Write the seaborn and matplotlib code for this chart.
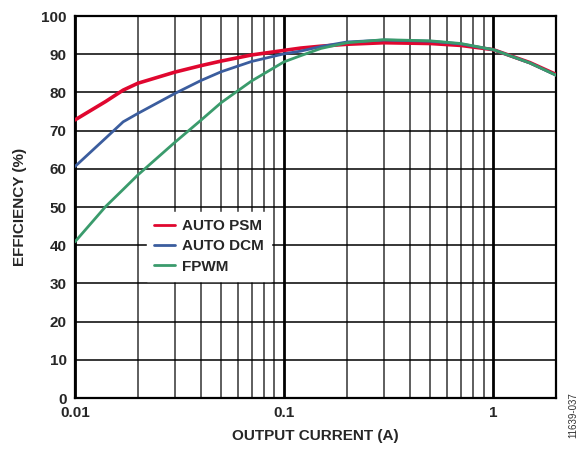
import matplotlib
matplotlib.use("Agg")
import matplotlib.pyplot as plt
import matplotlib.ticker as mticker
import seaborn as sns
import pandas as pd

current = [0.01, 0.014, 0.017, 0.02, 0.03, 0.04, 0.05, 0.07, 0.1, 0.12, 0.15, 0.2, 0.3, 0.5, 0.7, 1.0, 1.5, 2.0]
auto_psm = [72.8, 77.6, 80.6, 82.4, 85.3, 87.0, 88.2, 89.8, 91.0, 91.6, 92.1, 92.6, 93.0, 92.8, 92.3, 91.2, 87.8, 84.7]
auto_dcm = [60.6, 68.0, 72.3, 74.5, 79.7, 83.1, 85.4, 88.1, 90.1, 90.8, 92.0, 93.2, 93.7, 93.4, 92.7, 91.2, 87.7, 84.5]
fpwm = [40.9, 50.1, 54.6, 58.4, 66.9, 72.7, 77.3, 83.0, 88.0, 89.6, 91.5, 93.0, 93.8, 93.5, 92.8, 91.2, 87.7, 84.5]
series_names = ["AUTO PSM", "AUTO DCM", "FPWM"]
x_ticks = [0.01, 0.1, 1]
x_labels = ["0.01", "0.1", "1"]
y_ticks = list(range(0, 101, 10))

df = pd.concat([
    pd.DataFrame({"current": current, "eff": vals, "mode": name})
    for name, vals in zip(series_names, [auto_psm, auto_dcm, fpwm])
])

sns.set_style("white")
plt.rcParams["font.family"] = ["Liberation Sans", "DejaVu Sans"]

fig = plt.figure(figsize=(5.85, 4.53), dpi=100)
ax = fig.add_axes([75 / 585, 1 - 398 / 453, (556 - 75) / 585, (398 - 16) / 453])

palette = {"AUTO PSM": "#E0072F", "AUTO DCM": "#3B5D9E", "FPWM": "#3A9B6C"}
sizes = {"AUTO PSM": 2.6, "AUTO DCM": 2.0, "FPWM": 2.0}
sns.lineplot(data=df, x="current", y="eff", hue="mode", palette=palette,
             size="mode", sizes=sizes, ax=ax, legend=False, zorder=3)
for ln in ax.get_lines():
    ln.set_solid_joinstyle("round")
    ln.set_solid_capstyle("round")

ax.set_xscale("log")
ax.set_xlim(0.01, 2)
ax.set_ylim(0, 100)
ax.xaxis.set_major_locator(mticker.FixedLocator(x_ticks))
ax.xaxis.set_major_formatter(mticker.FixedFormatter(x_labels))
ax.xaxis.set_minor_locator(mticker.LogLocator(base=10, subs=range(2, 10)))
ax.xaxis.set_minor_formatter(mticker.NullFormatter())
ax.set_yticks(y_ticks)

ax.xaxis.grid(True, which="major", color="black", lw=2.0, zorder=1)
ax.xaxis.grid(True, which="minor", color="#333333", lw=1.1, zorder=1)
ax.yaxis.grid(True, which="major", color="black", lw=1.1, zorder=1)
ax.set_axisbelow(True)
for s in ax.spines.values():
    s.set_color("black")
    s.set_linewidth(1.6)
ax.tick_params(axis="both", which="both", length=0, labelsize=11, pad=6)
for lbl in ax.get_xticklabels() + ax.get_yticklabels():
    lbl.set_fontweight("bold")

ax.set_xlabel("OUTPUT CURRENT (A)", fontsize=11, fontweight="bold", labelpad=6)
ax.set_ylabel("EFFICIENCY (%)", fontsize=11, fontweight="bold", labelpad=10)

handles = [plt.Line2D([], [], color=palette[n], lw=2.0) for n in series_names]
leg = ax.legend(handles, series_names, loc="upper left",
                bbox_to_anchor=((147 - 75) / 481, (398 - 212) / 382),
                frameon=True, fancybox=False, framealpha=1, edgecolor="white",
                prop={"weight": "bold", "size": 11}, handlelength=1.4,
                handletextpad=0.45, labelspacing=0.42, borderpad=0.45,
                borderaxespad=0)
leg.set_zorder(5)

fig.text(573 / 585, 1 - 415 / 453, "11639-037", rotation=90, fontsize=7,
         color="#333333", ha="center", va="center")

fig.savefig("out.png", dpi=100)
